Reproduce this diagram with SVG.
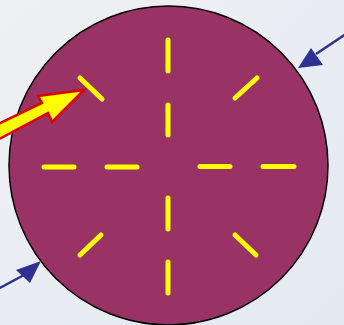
<svg xmlns="http://www.w3.org/2000/svg" width="344" height="325" viewBox="0 0 344 325">
  <defs>
    <linearGradient id="bg" x1="0" y1="0" x2="1" y2="1">
      <stop offset="0" stop-color="#EFF0F2"/>
      <stop offset="1" stop-color="#E3E9F3"/>
    </linearGradient>
    <marker id="blueHead" viewBox="0 0 10 10" refX="10" refY="5" markerWidth="10" markerHeight="10" markerUnits="userSpaceOnUse" orient="auto">
      <path d="M0,0 L10,5 L0,10 Z" fill="#2E3192"/>
    </marker>
  </defs>
  <style>
    .dash { stroke: #FFFF00; stroke-width: 5; stroke-linecap: round; fill: none; }
    .conn { stroke: #2E3192; stroke-width: 2.5; fill: none; }
    .head { fill: #2E3192; }
  </style>
  <rect x="0" y="0" width="344" height="325" fill="url(#bg)"/>
  <g id="disc">
    <circle cx="168.5" cy="165.5" r="159.5" fill="#993366" stroke="#000000" stroke-width="1.5"/>
    <line class="dash" x1="168" y1="40" x2="168" y2="71"/>
    <line class="dash" x1="168" y1="105" x2="168" y2="135"/>
    <line class="dash" x1="168" y1="198" x2="168" y2="229"/>
    <line class="dash" x1="168" y1="262" x2="168" y2="293"/>
    <line class="dash" x1="44" y1="167" x2="74" y2="167"/>
    <line class="dash" x1="107" y1="167" x2="137" y2="167"/>
    <line class="dash" x1="200" y1="166.5" x2="230" y2="166.5"/>
    <line class="dash" x1="263" y1="166.5" x2="294" y2="166.5"/>
    <line class="dash" x1="80" y1="78" x2="102" y2="99"/>
    <line class="dash" x1="235" y1="98" x2="257" y2="78"/>
    <line class="dash" x1="80" y1="255" x2="101" y2="235"/>
    <line class="dash" x1="235" y1="235" x2="256" y2="255"/>
  </g>
  <g id="pointer">
    <polygon points="84,90 38,96 42,103 -10,128 -10,144 48,113 52,122" fill="#FFFF00" stroke="#DD0000" stroke-width="2.5" stroke-linejoin="miter"/>
  </g>
  <g id="connectors">
    <line class="conn" x1="346" y1="34" x2="316" y2="54"/>
    <polygon class="head" points="298,68 311,48 323,65"/>
    <line class="conn" x1="-2" y1="289" x2="24" y2="275"/>
    <polygon class="head" points="41,261 16,270 30,283"/>
  </g>
</svg>
